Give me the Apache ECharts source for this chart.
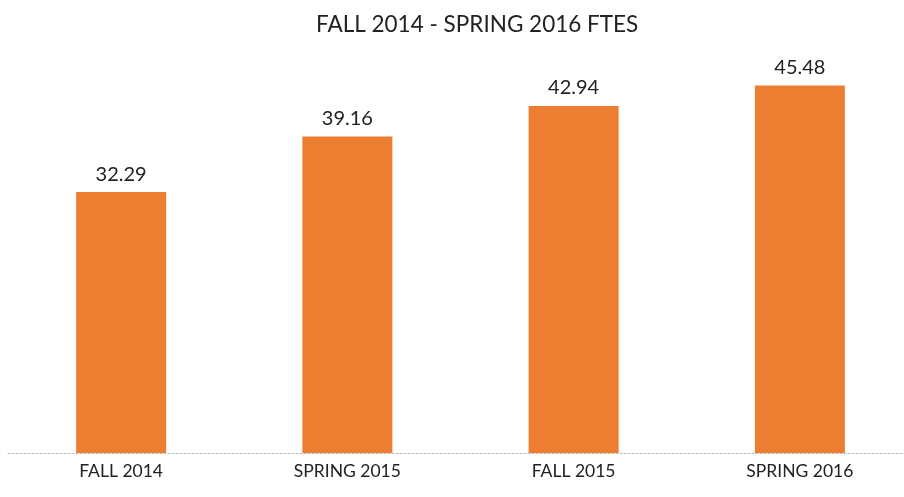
<!DOCTYPE html>
<html><head><meta charset="utf-8">
<script src="https://cdn.jsdelivr.net/npm/echarts@6/dist/echarts.min.js"></script>
<style>html,body{margin:0;padding:0;background:#fff}#c{width:904px;height:497px}</style>
</head><body><div id="c"></div>
<script>
const categories = ["FALL 2014", "SPRING 2015", "FALL 2015", "SPRING 2016"];
const ftes = [32.29, 39.16, 42.94, 45.48];
const chart = echarts.init(document.getElementById('c'));
chart.setOption({
  animation: false,
  title: {text: "FALL 2014 - SPRING 2016 FTES", left: 311, top: 8,
    textStyle: {fontFamily: 'Lato', fontSize: 22.5, fontWeight: 'normal', color: '#222'}},
  grid: {left: 8, width: 905, top: 49, bottom: 44, containLabel: false, outerBoundsMode: 'none'},
  xAxis: {type: 'category', data: categories,
    axisLine: {show: true, lineStyle: {color: '#bbbbbb', type: [2, 2], width: 1}},
    axisTick: {show: false},
    axisLabel: {fontFamily: 'Lato', fontSize: 17.5, color: '#222', margin: 9}},
  yAxis: {type: 'value', min: 0, max: 50, show: false, splitLine: {show: false}},
  series: [{type: 'bar', data: ftes, barWidth: 90,
    itemStyle: {color: '#ED7D31'},
    label: {show: true, position: 'top', distance: 8, fontFamily: 'Lato', fontSize: 20, color: '#222',
      formatter: p => p.value.toFixed(2)}}]
});
</script></body></html>
